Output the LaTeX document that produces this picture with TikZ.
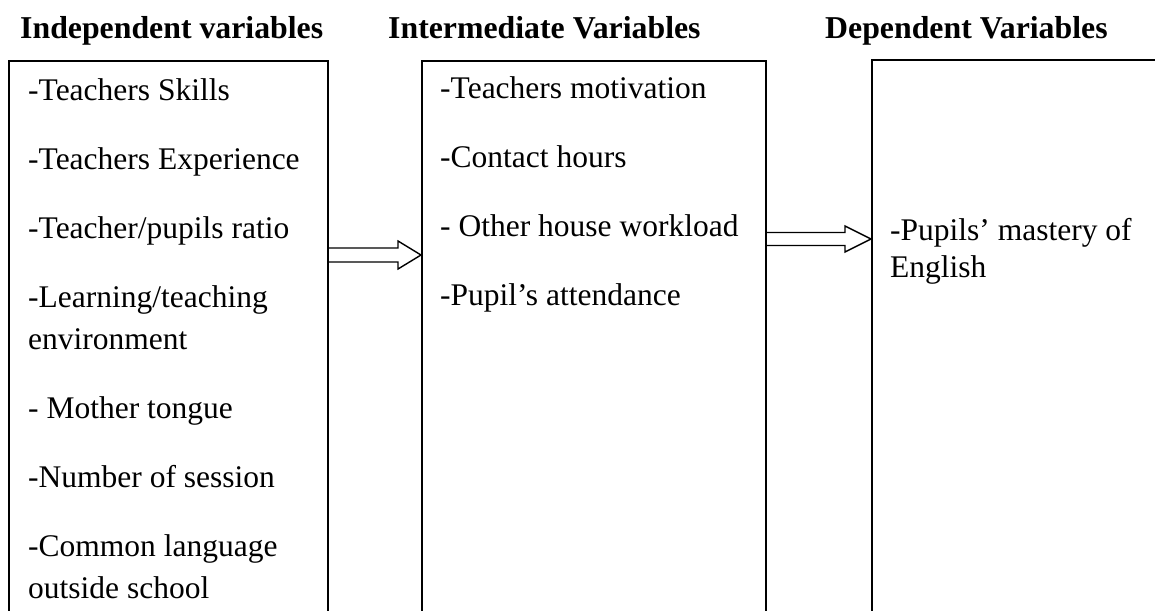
\documentclass[tikz,border=0pt]{standalone}
\usepackage{fontspec}
\setmainfont{Liberation Serif}
\usetikzlibrary{calc}
\tikzset{vbox/.style={draw, line width=1.5pt, anchor=north west, minimum height=600pt, inner sep=0pt},
  hdr/.style={font=\bfseries\fontsize{31.8}{38}\selectfont, anchor=base west, inner sep=0pt},
  itm/.style={font=\fontsize{31.5}{42}\selectfont, align=left, anchor=north west, inner sep=0pt},
  fat/.style={line width=1.4pt, line join=miter}}

\begin{document}
\begin{tikzpicture}[x=1pt, y=1pt]
  \useasboundingbox (0,0) rectangle (1155,-610);
  \clip (0,0) rectangle (1155,-610);
  % headings
  \node[hdr] (hindep) at (20,-38) {Independent variables};
  \node[hdr] (hinter) at (388,-38) {Intermediate Variables};
  \node[hdr] (hdep) at (825,-38) {Dependent Variables};
  % the three boxes, open at the foot of the page
  \node[vbox, minimum width=319pt] (indep) at (8,-60) {};
  \node[vbox, minimum width=344pt] (inter) at (421,-60) {};
  \node[vbox, minimum width=400pt] (dep) at (871,-59) {};
  \node[itm] (lindep) at (28,-70.6) {\strut-Teachers Skills\\[27pt]
    -Teachers Experience\\[27pt]
    -Teacher/pupils ratio\\[27pt]
    -Learning/teaching\\environment\\[27pt]
    - Mother tongue\\[27pt]
    -Number of session\\[27pt]
    -Common language\\outside school};
  \node[itm] (linter) at (440,-68.6) {\strut-Teachers motivation\\[27pt]
    -Contact hours\\[27pt]
    - Other house workload\\[27pt]
    -Pupil’s attendance};
  \node[itm, font=\fontsize{31.5}{37}\selectfont] (ldep) at (890,-214.1) {\strut-Pupils’ mastery of\\English};
  % hollow arrows
  \coordinate (ya) at (0,-255);
  \coordinate (yb) at (0,-239);
  \coordinate (a1) at (indep.east |- ya);
  \coordinate (b1) at (inter.west |- ya);
  \coordinate (a2) at (inter.east |- yb);
  \coordinate (b2) at (dep.west |- yb);
  \draw[fat] ($(a1)+(0,7)$) -- ($(b1)+(-23,7)$) -- ($(b1)+(-23,14)$) -- (b1)
    -- ($(b1)+(-23,-14)$) -- ($(b1)+(-23,-7)$) -- ($(a1)+(0,-7)$);
  \draw[fat] ($(a2)+(0,6.5)$) -- ($(b2)+(-26,6.5)$) -- ($(b2)+(-26,13)$) -- (b2)
    -- ($(b2)+(-26,-13)$) -- ($(b2)+(-26,-6.5)$) -- ($(a2)+(0,-6.5)$);
\end{tikzpicture}
\end{document}
